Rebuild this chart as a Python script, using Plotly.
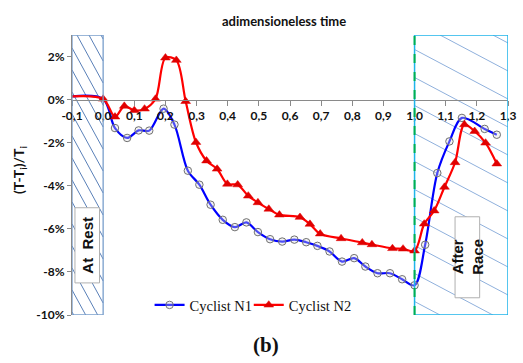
import plotly.graph_objects as go

# ---------------- data ----------------
x_ticks = [-0.1, 0.0, 0.1, 0.2, 0.3, 0.4, 0.5, 0.6, 0.7, 0.8, 0.9, 1.0, 1.1, 1.2, 1.3]
x_tick_labels = ["-0,1", "0,0", "0,1", "0,2", "0,3", "0,4", "0,5", "0,6", "0,7",
                 "0,8", "0,9", "1,0", "1,1", "1,2", "1,3"]
y_ticks = [-10, -8, -6, -4, -2, 0, 2]
y_tick_labels = ["-10%", "-8%", "-6%", "-4%", "-2%", "0%", "2%"]

n1_name = "Cyclist N1"
n1_x = [-0.1, 0.0, 0.038, 0.077, 0.114, 0.148, 0.194, 0.229, 0.272, 0.309, 0.345,
        0.384, 0.423, 0.46, 0.497, 0.536, 0.575, 0.614, 0.652, 0.688, 0.727, 0.767,
        0.806, 0.842, 0.881, 0.921, 0.96, 1.0, 1.034, 1.073, 1.112, 1.152, 1.225, 1.264]
n1_y = [0.15, 0.03, -1.32, -1.78, -1.43, -1.44, -0.42, -1.16, -3.3, -3.95, -4.88,
        -5.58, -5.92, -5.7, -6.15, -6.48, -6.59, -6.5, -6.62, -6.79, -7.05, -7.52,
        -7.36, -7.75, -8.06, -8.06, -8.34, -8.62, -6.74, -3.41, -1.94, -0.85, -1.36, -1.63]
n1_marker_shown = [0, 0] + [1] * (len(n1_x) - 2)

n2_name = "Cyclist N2"
n2_x = [-0.1, 0.0, 0.038, 0.068, 0.1, 0.133, 0.168, 0.2, 0.235, 0.265, 0.298, 0.332,
        0.366, 0.399, 0.432, 0.466, 0.497, 0.532, 0.566, 0.632, 0.664, 0.697, 0.764,
        0.832, 0.863, 0.929, 0.963, 1.0, 1.031, 1.063, 1.096, 1.13, 1.16, 1.193, 1.228, 1.264]
n2_y = [0.15, 0.03, -0.8, -0.3, -0.5, -0.43, 0.03, 1.94, 1.83, -0.08, -1.98, -2.84,
        -3.22, -3.92, -3.95, -4.47, -4.78, -5.08, -5.35, -5.46, -5.78, -6.23, -6.45,
        -6.64, -6.73, -6.91, -6.93, -7.02, -5.77, -5.16, -4.06, -2.92, -1.16, -1.47, -2.01, -2.98]
n2_marker_shown = [0] + [1] * (len(n2_x) - 1)

rest_zone = [-0.1, 0.0]
race_zone = [1.0, 1.3]
x_range = [-0.1, 1.3]
y_range = [-10, 3]

# ---------------- layout geometry ----------------
W, H = 523, 363
ML, MR, MT, MB = 72, 7, 35, 48
PW, PH = W - ML - MR, H - MT - MB
kx = PW / (x_range[1] - x_range[0])
ky = PH / (y_range[1] - y_range[0])


def px_to_paper(px, py):
    return (px - ML) / PW, (H - MB - py) / PH


def hatch(x0, x1, y0, y1, slope, spacing, phase=0.0):
    """Diagonal hatch segments (pixel slope, pixel spacing) clipped to a data rect."""
    w = (x1 - x0) * kx
    h = (y1 - y0) * ky
    xs, ys = [], []
    c = -slope * w + phase
    while c <= h:
        xa = max(0.0, -c / slope)
        xb = min(w, (h - c) / slope)
        if xb > xa:
            for xp in (xa, xb):
                yp = slope * xp + c
                xs.append(x0 + xp / kx)
                ys.append(y1 - yp / ky)
            xs.append(None)
            ys.append(None)
        c += spacing
    return xs, ys


fig = go.Figure()

# hatching
hx, hy = hatch(rest_zone[0], rest_zone[1], y_range[0], y_range[1], 1.8, 22, 4)
fig.add_trace(go.Scatter(x=hx, y=hy, mode="lines", showlegend=False, hoverinfo="skip",
                         line=dict(color="#5a80b8", width=1)))
hx, hy = hatch(race_zone[0], race_zone[1], y_range[0], y_range[1], 0.52, 28, 8)
fig.add_trace(go.Scatter(x=hx, y=hy, mode="lines", showlegend=False, hoverinfo="skip",
                         line=dict(color="#8fb0dc", width=1)))

# data series
fig.add_trace(go.Scatter(
    x=n1_x, y=n1_y, name=n1_name, mode="lines+markers", legend="legend",
    line=dict(color="#0000ff", width=2.2, shape="spline", smoothing=0.9),
    marker=dict(symbol="circle", size=7.5, color="rgba(220,220,220,0.35)",
                opacity=n1_marker_shown, line=dict(color="#707070", width=1)),
))
fig.add_trace(go.Scatter(
    x=n2_x, y=n2_y, name=n2_name, mode="lines+markers", legend="legend2",
    line=dict(color="#ff0000", width=2.2, shape="spline", smoothing=0.9),
    marker=dict(symbol="triangle-up", size=8.5, color="#e00000",
                opacity=n2_marker_shown, line=dict(color="#e00000", width=0.5)),
))

shapes = [
    dict(type="rect", xref="x", yref="y", x0=rest_zone[0], x1=rest_zone[1],
         y0=y_range[0], y1=y_range[1], line=dict(color="#7a9fcc", width=1.3), layer="above"),
    dict(type="rect", xref="x", yref="y", x0=race_zone[0], x1=race_zone[1],
         y0=y_range[0], y1=y_range[1], line=dict(color="#1eb4ea", width=1.5), layer="above"),
    dict(type="line", xref="x", yref="y", x0=race_zone[0], x1=race_zone[0],
         y0=y_range[0], y1=y_range[1], line=dict(color="#00b050", width=2, dash="dash"),
         layer="above"),
    # label boxes
    dict(type="rect", xref="x", yref="y", x0=-0.0905, x1=-0.0117, y0=-8.51, y1=-5.02,
         fillcolor="white", line=dict(color="#b0b0b0", width=1), layer="above"),
    dict(type="rect", xref="x", yref="y", x0=1.13, x1=1.209, y0=-9.2, y1=-5.44,
         fillcolor="white", line=dict(color="#b0b0b0", width=1), layer="above"),
]

annotations = [
    dict(x=-0.051, y=-6.77, xref="x", yref="y", text="At  Rest", textangle=-90,
         showarrow=False, font=dict(family="Liberation Sans", size=15, color="#111", weight="bold")),
    dict(x=1.17, y=-7.32, xref="x", yref="y", text="After<br>Race", textangle=-90,
         showarrow=False, font=dict(family="Liberation Sans", size=15, color="#111", weight="bold")),
]
tx, ty = px_to_paper(288, 21)
annotations.append(dict(x=tx, y=ty, xref="paper", yref="paper", text="adimensioneless time",
                        showarrow=False, xanchor="center", yanchor="middle",
                        font=dict(family="Lato", size=13, color="#111", weight="bold")))
tx, ty = px_to_paper(18, 170)
annotations.append(dict(x=tx, y=ty, xref="paper", yref="paper",
                        text="(T-T<sub>i</sub>)/T<sub>i</sub>", textangle=-90,
                        showarrow=False, xanchor="center", yanchor="middle",
                        font=dict(family="Lato", size=14, color="#111", weight="bold")))
tx, ty = px_to_paper(270, 345)
annotations.append(dict(x=tx, y=ty, xref="paper", yref="paper", text="(b)",
                        showarrow=False, xanchor="center", yanchor="middle",
                        font=dict(family="Liberation Serif", size=21, color="#111", weight="bold")))

l1x, l1y = px_to_paper(151, 305)
l2x, l2y = px_to_paper(252, 305)
legend_font = dict(family="Liberation Serif", size=14.5, color="#111")

fig.update_layout(
    width=W, height=H,
    margin=dict(l=ML, r=MR, t=MT, b=MB, pad=0),
    paper_bgcolor="white", plot_bgcolor="white",
    shapes=shapes, annotations=annotations,
    showlegend=True,
    legend=dict(orientation="h", x=l1x, y=l1y, xanchor="left", yanchor="middle",
                bgcolor="rgba(0,0,0,0)", font=legend_font, itemwidth=30),
    legend2=dict(orientation="h", x=l2x, y=l2y, xanchor="left", yanchor="middle",
                 bgcolor="rgba(0,0,0,0)", font=legend_font, itemwidth=30),
    xaxis=dict(range=x_range, anchor="free",
               position=(0 - y_range[0]) / (y_range[1] - y_range[0]),
               tickmode="array", tickvals=x_ticks, ticktext=x_tick_labels,
               showgrid=False, zeroline=False, showline=True, linecolor="#8a8a8a",
               linewidth=1, ticks="outside", ticklen=5, tickcolor="#8a8a8a",
               ticklabeloverflow="allow",
               tickfont=dict(family="Lato", size=12, color="#111", weight="bold")),
    yaxis=dict(range=y_range, tickmode="array", tickvals=y_ticks, ticktext=y_tick_labels,
               showgrid=False, zeroline=False, showline=True, linecolor="#8a8a8a",
               ticks="outside", ticklen=4, tickcolor="#8a8a8a",
               tickfont=dict(family="Lato", size=12, color="#111", weight="bold")),
)

fig.write_html("out.html", config={"displayModeBar": False},
               post_script="document.body.style.margin='0';document.body.style.padding='0';")
